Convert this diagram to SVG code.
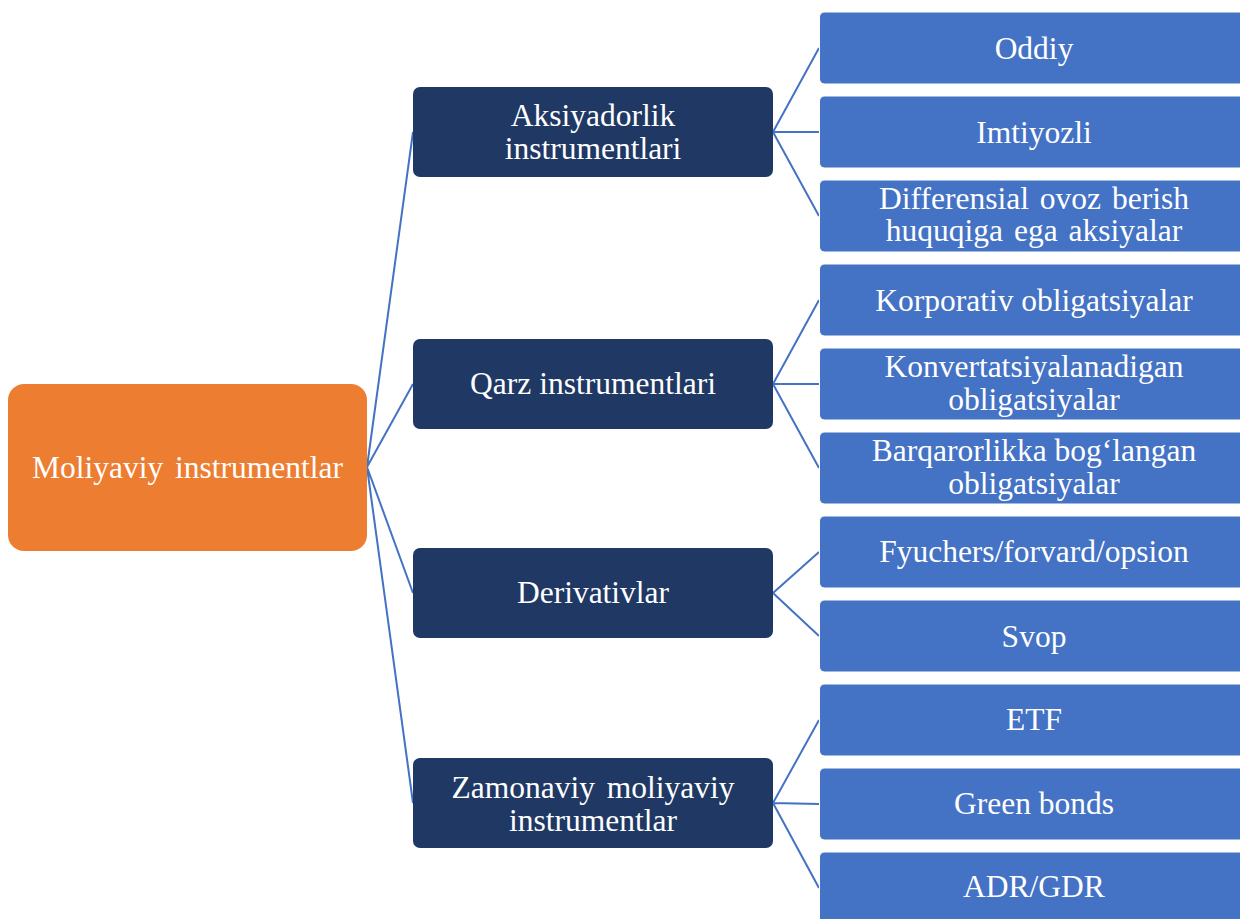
<svg xmlns="http://www.w3.org/2000/svg" width="1240" height="919" viewBox="0 0 1240 919">
<style>
.root{fill:#ED7D31}
.mid{fill:#203864}
.leaf{fill:#4472C4;stroke:#ffffff;stroke-width:1}
.t{font-size:31.5px;fill:#ffffff;text-anchor:middle}
.c{stroke:#4472C4;stroke-width:2;fill:none}
</style>
<rect width="1240" height="919" fill="#ffffff"/>
<g id="connectors">
<path class="c" d="M367,467 L413,132 M367,467 L413,384 M367,467 L413,593 M367,467 L413,803"/>
<path class="c" d="M773,132 L819,48 M773,132 L819,132 M773,132 L819,216"/>
<path class="c" d="M773,384 L819,300 M773,384 L819,384 M773,384 L819,468"/>
<path class="c" d="M773,593 L819,552 M773,593 L819,636"/>
<path class="c" d="M773,803 L819,720 M773,803 L819,804 M773,803 L819,888"/>
</g>
<g font-family="Liberation Serif, Times New Roman, serif">
<g id="n-root"><rect class="root" x="8" y="384" width="359" height="167" rx="16"/><text class="t" x="187.5" y="478" word-spacing="4">Moliyaviy instrumentlar</text></g>
<g id="n-aksiyadorlik"><rect class="mid" x="413" y="87" width="360" height="90" rx="7"/><text class="t" x="593" y="126">Aksiyadorlik</text><text class="t" x="593" y="159">instrumentlari</text></g>
<g id="n-qarz"><rect class="mid" x="413" y="339" width="360" height="90" rx="7"/><text class="t" x="593" y="394">Qarz instrumentlari</text></g>
<g id="n-derivativlar"><rect class="mid" x="413" y="548" width="360" height="90" rx="7"/><text class="t" x="593" y="603">Derivativlar</text></g>
<g id="n-zamonaviy"><rect class="mid" x="413" y="758" width="360" height="90" rx="7"/><text class="t" x="593" y="798" word-spacing="4">Zamonaviy moliyaviy</text><text class="t" x="593" y="831">instrumentlar</text></g>
<g id="n-oddiy"><rect class="leaf" x="819.5" y="12" width="430" height="72" rx="5"/><text class="t" x="1034" y="59">Oddiy</text></g>
<g id="n-imtiyozli"><rect class="leaf" x="819.5" y="96" width="430" height="72" rx="5"/><text class="t" x="1034" y="143">Imtiyozli</text></g>
<g id="n-differensial"><rect class="leaf" x="819.5" y="180" width="430" height="72" rx="5"/><text class="t" x="1034" y="209" word-spacing="3">Differensial ovoz berish</text><text class="t" x="1034" y="241" word-spacing="3">huquqiga ega aksiyalar</text></g>
<g id="n-korporativ"><rect class="leaf" x="819.5" y="264" width="430" height="72" rx="5"/><text class="t" x="1034" y="311">Korporativ obligatsiyalar</text></g>
<g id="n-konvert"><rect class="leaf" x="819.5" y="348" width="430" height="72" rx="5"/><text class="t" x="1034" y="377">Konvertatsiyalanadigan</text><text class="t" x="1034" y="410">obligatsiyalar</text></g>
<g id="n-barqaror"><rect class="leaf" x="819.5" y="432" width="430" height="72" rx="5"/><text class="t" x="1034" y="461">Barqarorlikka bog‘langan</text><text class="t" x="1034" y="494">obligatsiyalar</text></g>
<g id="n-fyuchers"><rect class="leaf" x="819.5" y="516" width="430" height="72" rx="5"/><text class="t" x="1034" y="562">Fyuchers/forvard/opsion</text></g>
<g id="n-svop"><rect class="leaf" x="819.5" y="600" width="430" height="72" rx="5"/><text class="t" x="1034" y="647">Svop</text></g>
<g id="n-etf"><rect class="leaf" x="819.5" y="684" width="430" height="72" rx="5"/><text class="t" x="1034" y="730">ETF</text></g>
<g id="n-green"><rect class="leaf" x="819.5" y="768" width="430" height="72" rx="5"/><text class="t" x="1034" y="814">Green bonds</text></g>
<g id="n-adr"><rect class="leaf" x="819.5" y="852" width="430" height="72" rx="5"/><text class="t" x="1034" y="897">ADR/GDR</text></g>
</g>
</svg>
